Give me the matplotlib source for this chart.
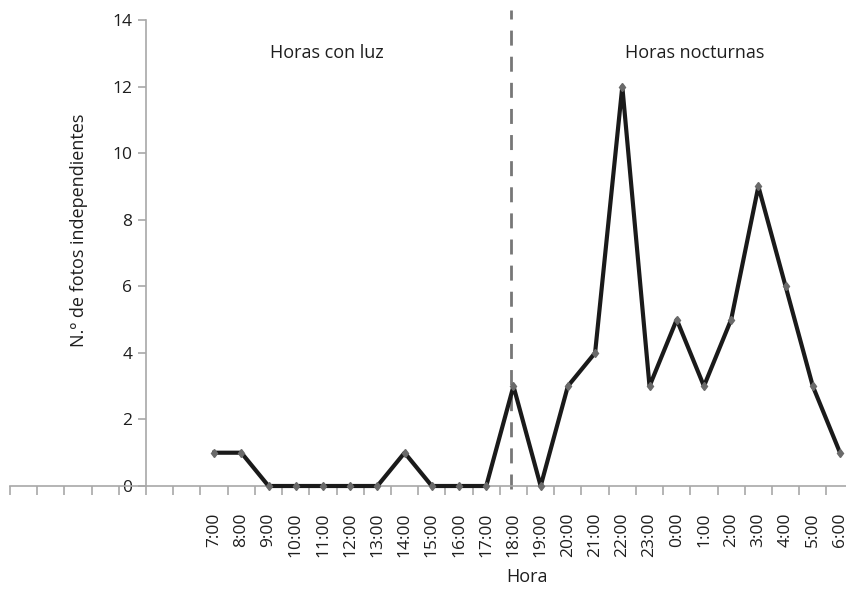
import matplotlib
matplotlib.use("Agg")
import matplotlib.pyplot as plt

hours = ["7:00", "8:00", "9:00", "10:00", "11:00", "12:00", "13:00", "14:00",
         "15:00", "16:00", "17:00", "18:00", "19:00", "20:00", "21:00", "22:00",
         "23:00", "0:00", "1:00", "2:00", "3:00", "4:00", "5:00", "6:00"]
photos = [1, 1, 0, 0, 0, 0, 0, 1, 0, 0, 0, 3, 0, 3, 4, 12, 3, 5, 3, 5, 9, 6, 3, 1]
y_ticks = [0, 2, 4, 6, 8, 10, 12, 14]
divider_hour = "18:00"

plt.rcParams['font.family'] = ['Open Sans', 'DejaVu Sans']

W, H = 846, 589
fig = plt.figure(figsize=(W / 100, H / 100), dpi=100)
ax = fig.add_axes([10 / W, 103 / H, 836 / W, 466 / H])

x = list(range(len(hours)))
ax.plot(x, photos, color='#1a1a1a', lw=3.0, marker='d', markersize=4.5,
        markerfacecolor='#6a6a6a', markeredgecolor='#6a6a6a', zorder=3,
        clip_on=False)

ax.set_xlim(-7.45, 23.22)
ax.set_ylim(0, 14)

axis_col = '#a8a8a8'
for s in ['top', 'right']:
    ax.spines[s].set_visible(False)
ax.spines['left'].set_position(('data', -2.5))
ax.spines['left'].set_color(axis_col)
ax.spines['bottom'].set_color(axis_col)
ax.spines['left'].set_linewidth(1.2)
ax.spines['bottom'].set_linewidth(1.2)

ax.set_yticks(y_ticks)
ax.set_yticklabels([str(v) for v in y_ticks], fontsize=12.5, color='#1e1e1e')
ax.tick_params(axis='y', direction='out', length=6, width=1.2, color=axis_col, pad=4)

# category labels centred, tick marks at category boundaries
ax.set_xticks(x)
ax.set_xticklabels(hours, rotation=90, fontsize=12.5, color='#1e1e1e')
ax.tick_params(axis='x', which='major', length=0, pad=19)
ax.set_xticks([i - 0.5 for i in range(-7, len(hours))], minor=True)
ax.tick_params(axis='x', which='minor', direction='out', length=6.5, width=1.2, color=axis_col)

# divider
xd = hours.index(divider_hour) - 0.08
ax.plot([xd, xd], [-0.1, 14.3], color='#777777', lw=2.0, ls=(0, (5.4, 4)),
        clip_on=False, zorder=2)

ax.text(4.15, 13.0, "Horas con luz", ha='center', va='center', fontsize=13, color='#1e1e1e')
ax.text(17.65, 13.0, "Horas nocturnas", ha='center', va='center', fontsize=13, color='#1e1e1e')

fig.text(79 / W, 1 - 230 / H, "N.º de fotos independientes", rotation=90,
         ha='center', va='center', fontsize=13, color='#1e1e1e')
fig.text(527 / W, 1 - 577 / H, "Hora", ha='center', va='center', fontsize=13, color='#1e1e1e')

fig.savefig("out.png", dpi=100)
